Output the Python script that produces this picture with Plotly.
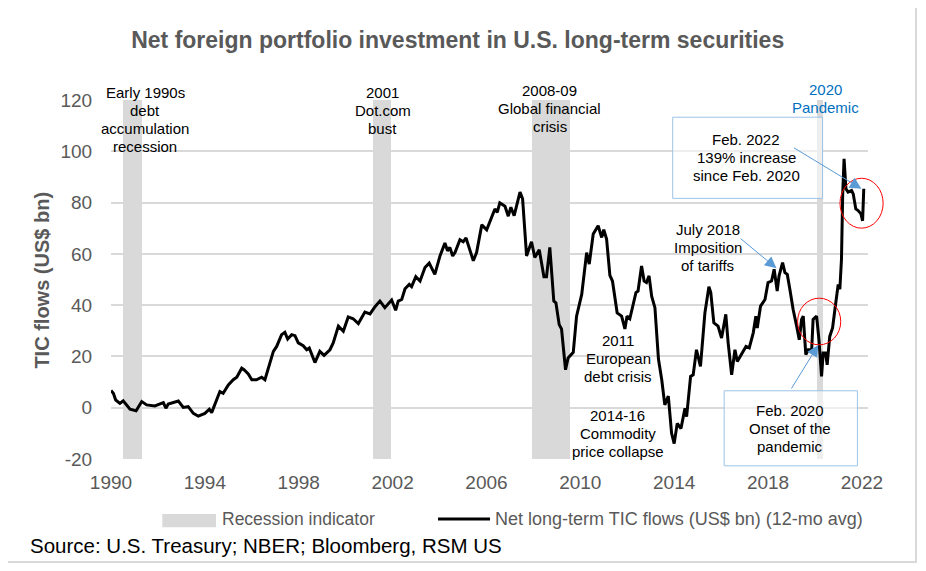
import plotly.graph_objects as go

# ── Palette ───────────────────────────────────────────────────────────────────
GRAY_TXT = "#595959"
GRID     = "#D9D9D9"
BAND     = "#D9D9D9"
BLUE_TXT = "#0070C0"
BOX_LINE = "#9DC3E6"
ARROW    = "#5B9BD5"
RED      = "#FF0000"
FONT     = "Liberation Sans, Arial"

# ── Data ──────────────────────────────────────────────────────────────────────
# decimal year / 12-mo avg net long-term TIC flows, US$ bn
years = [
    1990.00, 1990.10, 1990.20, 1990.38, 1990.52, 1990.81, 1991.07, 1991.31, 1991.52, 1991.87,
    1992.23, 1992.34, 1992.44, 1992.87, 1993.08, 1993.29, 1993.51, 1993.72, 1994.00, 1994.19,
    1994.29, 1994.64, 1994.78, 1995.00, 1995.21, 1995.36, 1995.57, 1995.67, 1995.85, 1996.00,
    1996.20, 1996.42, 1996.56, 1996.63, 1996.77, 1996.92, 1997.06, 1997.27, 1997.41, 1997.53,
    1997.70, 1997.84, 1997.98, 1998.19, 1998.34, 1998.45, 1998.55, 1998.69, 1998.90, 1999.08,
    1999.33, 1999.47, 1999.69, 1999.90, 2000.11, 2000.32, 2000.54, 2000.82, 2001.04, 2001.25,
    2001.46, 2001.67, 2001.96, 2002.13, 2002.24, 2002.39, 2002.53, 2002.71, 2002.81, 2002.99,
    2003.17, 2003.38, 2003.56, 2003.80, 2004.02, 2004.23, 2004.34, 2004.44, 2004.56, 2004.66,
    2004.87, 2005.01, 2005.13, 2005.44, 2005.58, 2005.80, 2006.01, 2006.22, 2006.36, 2006.46,
    2006.57, 2006.79, 2006.93, 2007.04, 2007.18, 2007.43, 2007.54, 2007.71, 2007.82, 2007.92,
    2008.06, 2008.25, 2008.45, 2008.56, 2008.70, 2008.87, 2008.96, 2009.10, 2009.20, 2009.37,
    2009.48, 2009.70, 2009.84, 2010.06, 2010.27, 2010.38, 2010.55, 2010.76, 2010.91, 2011.00,
    2011.12, 2011.26, 2011.37, 2011.57, 2011.76, 2011.90, 2011.99, 2012.11, 2012.37, 2012.46,
    2012.61, 2012.72, 2012.82, 2012.93, 2013.04, 2013.18, 2013.33, 2013.47, 2013.60, 2013.75,
    2013.89, 2014.00, 2014.13, 2014.29, 2014.46, 2014.53, 2014.70, 2014.81, 2014.95, 2015.12,
    2015.31, 2015.48, 2015.56, 2015.69, 2015.87, 2016.02, 2016.20, 2016.30, 2016.45, 2016.59,
    2016.69, 2016.87, 2017.06, 2017.20, 2017.37, 2017.48, 2017.54, 2017.68, 2017.87, 2018.00,
    2018.15, 2018.26, 2018.39, 2018.47, 2018.62, 2018.72, 2018.82, 2018.93, 2019.07, 2019.22,
    2019.33, 2019.43, 2019.50, 2019.61, 2019.71, 2019.86, 2019.92, 2020.07, 2020.17, 2020.28,
    2020.35, 2020.45, 2020.52, 2020.63, 2020.75, 2020.85, 2020.92, 2020.99, 2021.06, 2021.13,
    2021.18, 2021.24, 2021.32, 2021.41, 2021.56, 2021.63, 2021.74, 2021.84, 2021.96, 2022.03,
    2022.08,
]
tic_flows = [
    6.7, 5.6, 3.0, 1.7, 2.7, -0.6, -1.2, 2.4, 1.1, 0.7,
    2.0, -0.2, 1.4, 2.6, 0.1, 0.4, -2.2, -3.3, -2.2, -0.6,
    -1.9, 6.3, 5.6, 8.9, 10.9, 11.9, 15.4, 14.8, 13.2, 10.9,
    10.9, 11.9, 10.9, 12.8, 17.4, 22.0, 23.9, 28.5, 29.4, 26.8,
    28.5, 28.1, 25.3, 24.2, 22.6, 23.3, 20.7, 17.6, 22.0, 20.4,
    22.6, 25.3, 31.8, 29.8, 35.4, 34.7, 32.8, 37.3, 36.6, 39.4,
    41.6, 39.0, 42.0, 38.0, 41.6, 42.2, 46.4, 48.1, 47.2, 51.1,
    49.4, 54.7, 56.4, 52.0, 59.2, 64.2, 61.2, 62.5, 59.2, 60.5,
    65.5, 64.7, 66.2, 57.3, 60.5, 71.3, 69.4, 73.9, 77.5, 76.2,
    79.9, 78.6, 74.7, 78.2, 74.9, 84.1, 81.5, 59.2, 62.5, 64.7,
    58.6, 61.6, 51.1, 51.1, 62.5, 41.6, 40.9, 32.4, 30.7, 14.8,
    19.4, 21.6, 35.7, 44.2, 60.5, 56.0, 67.7, 71.0, 66.4, 69.4,
    65.8, 51.6, 49.4, 37.0, 35.7, 30.7, 35.7, 34.7, 44.9, 45.5,
    55.3, 49.4, 48.8, 51.4, 43.5, 39.0, 19.0, 10.9, 1.1, 4.5,
    -10.0, -14.0, -6.1, -8.1, -0.2, -3.5, 12.2, 12.8, 22.6, 16.1,
    37.0, 47.2, 44.9, 33.1, 31.8, 27.2, 36.4, 25.3, 12.8, 22.6,
    18.0, 20.7, 23.9, 23.3, 29.2, 35.7, 31.1, 39.6, 42.2, 48.8,
    49.4, 54.0, 45.5, 51.4, 56.6, 52.7, 52.0, 46.2, 38.3, 31.8,
    26.5, 34.4, 35.7, 20.7, 22.6, 22.6, 34.4, 35.7, 26.5, 12.2,
    21.3, 21.3, 16.7, 27.8, 31.1, 38.3, 43.5, 48.1, 46.2, 57.9,
    82.7, 97.1, 85.4, 84.1, 84.7, 83.4, 77.5, 76.9, 75.6, 72.9,
    85.4,
]

# NBER recessions (decimal year start / end)
rec_start = [1990.50, 2001.17, 2007.92, 2020.08]
rec_end   = [1991.30, 2001.95, 2009.55, 2020.36]
Y_MIN, Y_MAX = -20, 120

x_ticks = [1990, 1994, 1998, 2002, 2006, 2010, 2014, 2018, 2022]
y_ticks = [-20, 0, 20, 40, 60, 80, 100, 120]
y_tick_labels = ["-20", "0", "20", "40", "60", "80", "100", "120"]

# ── Figure ────────────────────────────────────────────────────────────────────
fig = go.Figure()

fig.add_trace(go.Bar(
    name="Recession indicator",
    x=[(s + e) / 2 for s, e in zip(rec_start, rec_end)],
    y=[Y_MAX - Y_MIN] * len(rec_start),
    base=Y_MIN,
    width=[e - s for s, e in zip(rec_start, rec_end)],
    marker=dict(color=BAND, line=dict(width=0)),
    showlegend=False, hoverinfo="skip",
))

fig.add_trace(go.Scatter(
    name="Net long-term TIC flows (US$ bn) (12-mo avg)",
    x=years, y=tic_flows,
    mode="lines",
    line=dict(color="black", width=3),
    showlegend=False,
))

LINE_GAP = 18  # px between text lines in the callouts

def note(text, x, y, xref="x", yref="y", color="black", size=15, xanchor="center", **kw):
    lines = text.split("\n")
    n = len(lines)
    for i, ln in enumerate(lines):
        fig.add_annotation(text=ln, x=x, y=y, xref=xref, yref=yref, showarrow=False,
                           xanchor=xanchor, yanchor="middle",
                           yshift=((n - 1) / 2 - i) * LINE_GAP,
                           font=dict(family=FONT, size=size, color=color), **kw)

def arrow(x0, y0, x1, y1):
    fig.add_annotation(text="", x=x1, y=y1, ax=x0, ay=y0, xref="x", yref="y",
                       axref="x", ayref="y", showarrow=True, arrowhead=2, arrowsize=2.3,
                       arrowwidth=1, arrowcolor=ARROW)

# event labels
note("Early 1990s\ndebt\naccumulation\nrecession", 1991.45, 0.946, yref="paper")
note("2001\nDot.com\nbust", 2001.59, 0.972, yref="paper")
note("2008-09\nGlobal financial\ncrisis", 2008.70, 0.975, yref="paper")
note("2020\nPandemic", 2020.46, 1.003, yref="paper", color=BLUE_TXT)
note("July 2018\nImposition\nof tariffs", 2015.42, 62.3)
note("2011\nEuropean\ndebt crisis", 2011.61, 19.3)
note("2014-16\nCommodity\nprice collapse", 2011.60, -10.0)
note("Feb. 2022\n139% increase\nsince Feb. 2020", 2017.08, 0.840, yref="paper")
note("Feb. 2020\nOnset of the\npandemic", 2018.93, 0.086, yref="paper")

arrow(2019.04, 101.7, 2021.98, 85.4)
arrow(2016.77, 66.4, 2018.36, 54.4)
arrow(2018.96, 6.9, 2020.14, 24.5)

# boxes, circles, outer frame
shapes = [
    dict(type="rect", xref="paper", yref="paper", x0=0.742, x1=0.940, y0=0.726, y1=0.952,
         line=dict(color=BOX_LINE, width=1), fillcolor="rgba(255,255,255,0.55)"),
    dict(type="rect", xref="paper", yref="paper", x0=0.810, x1=0.986, y0=-0.019, y1=0.190,
         line=dict(color=BOX_LINE, width=1), fillcolor="rgba(255,255,255,0.55)"),
    dict(type="circle", xref="paper", yref="paper", x0=0.963, x1=1.020, y0=0.643, y1=0.782,
         line=dict(color=RED, width=1)),
    dict(type="circle", xref="paper", yref="paper", x0=0.907, x1=0.964, y0=0.318, y1=0.448,
         line=dict(color=RED, width=1)),
    dict(type="rect", xref="paper", yref="paper", x0=-0.1427, x1=1.0634, y0=-0.2869, y1=1.259,
         line=dict(color=GRID, width=2)),
    # legend swatches
    dict(type="rect", xref="paper", yref="paper", x0=0.0678, x1=0.1387, y0=-0.190, y1=-0.153,
         line=dict(width=0), fillcolor=BAND),
    dict(type="line", xref="paper", yref="paper", x0=0.432, x1=0.5007, y0=-0.167, y1=-0.167,
         line=dict(color="black", width=3)),
]

note("Recession indicator", 0.144, -0.167, xref="paper", yref="paper",
     color=GRAY_TXT, size=17.5, xanchor="left")
note("Net long-term TIC flows (US$ bn) (12-mo avg)", 0.504, -0.167, xref="paper", yref="paper",
     color=GRAY_TXT, size=18, xanchor="left")
note("Source: U.S. Treasury; NBER; Bloomberg, RSM US", -0.109, -0.240, xref="paper", yref="paper",
     size=20.5, xanchor="left")
note("<b>TIC flows (US$ bn)</b>", -0.0915, 0.499, xref="paper", yref="paper",
     color=GRAY_TXT, size=20, textangle=-90)

# page body has an 8px margin, so the margins below are shifted by that much
fig.update_layout(
    title=dict(text="<b>Net foreign portfolio investment in U.S. long-term securities</b>",
               font=dict(family=FONT, size=23, color=GRAY_TXT),
               x=0.458, xref="paper", xanchor="center", y=0.944, yref="container", yanchor="middle"),
    width=926, height=571,
    plot_bgcolor="white", paper_bgcolor="white",
    font=dict(family=FONT, size=19, color=GRAY_TXT),
    margin=dict(l=103, r=66, t=92, b=120),
    shapes=shapes,
    bargap=0,
    showlegend=False,
)
fig.update_xaxes(range=[1990, 2022.26], tickvals=x_ticks, tickformat="d",
                 showgrid=False, zeroline=False, showline=False,
                 ticks="outside", ticklen=6, tickcolor="rgba(0,0,0,0)")
fig.update_yaxes(range=[Y_MIN, Y_MAX], tickvals=y_ticks, ticktext=y_tick_labels,
                 showgrid=True, gridcolor=GRID, gridwidth=1.5, zeroline=False, showline=False,
                 ticks="outside", ticklen=14, tickcolor="rgba(0,0,0,0)")

fig.write_html("out.html")
